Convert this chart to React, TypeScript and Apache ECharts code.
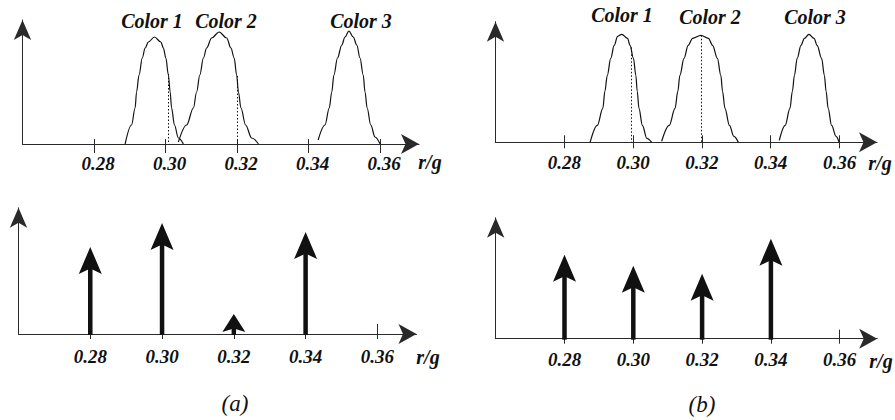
import React, { useEffect, useRef } from "react";
import * as echarts from "echarts";

// ---------- data ----------
const tickValues = [0.28, 0.3, 0.32, 0.34, 0.36];
const xAxisName = "r/g";
const colorLabels = ["Color 1", "Color 2", "Color 3"];
const panelLabels = ["(a)", "(b)"];

// (a) top: colour distributions (r/g, relative height)
const curveA1R = [0.2887, 0.2905, 0.2915, 0.2919, 0.2926, 0.2935, 0.2943, 0.2952, 0.2969, 0.2987, 0.2994, 0.3001, 0.3008, 0.3013, 0.3017, 0.3025, 0.3036, 0.305];
const curveA1H = [0, 19, 36, 52, 69, 86, 96, 102, 107, 102, 96, 86, 69, 52, 36, 19, 6, 0];
const curveA2R = [0.3036, 0.3059, 0.3078, 0.3087, 0.3096, 0.3106, 0.3115, 0.3129, 0.315, 0.3171, 0.3183, 0.3192, 0.3199, 0.3204, 0.3211, 0.3224, 0.3241, 0.326];
const curveA2H = [2, 19, 36, 52, 69, 86, 96, 106, 112, 106, 96, 86, 69, 52, 36, 19, 6, 0];
const curveA3R = [0.3427, 0.3446, 0.3458, 0.3465, 0.3471, 0.3481, 0.3493, 0.3502, 0.3513, 0.3525, 0.3535, 0.3544, 0.3553, 0.3558, 0.3564, 0.3574, 0.3586, 0.36];
const curveA3H = [4, 19, 36, 52, 69, 86, 99, 107, 113, 107, 99, 86, 69, 52, 36, 19, 7, 0];

// (b) top
const curveB1R = [0.2875, 0.2896, 0.2912, 0.2918, 0.2925, 0.2935, 0.2945, 0.2955, 0.2967, 0.2984, 0.2991, 0.3001, 0.3008, 0.3012, 0.3017, 0.3027, 0.304, 0.3054];
const curveB1H = [0, 17, 34, 51, 67, 84, 97, 106, 108, 104, 97, 84, 67, 51, 34, 17, 4, 0];
const curveB2R = [0.3083, 0.3105, 0.3122, 0.313, 0.3136, 0.3148, 0.316, 0.3173, 0.3197, 0.3219, 0.3231, 0.3245, 0.3255, 0.326, 0.3267, 0.328, 0.3293, 0.3306];
const curveB2H = [1, 17, 34, 51, 67, 84, 97, 104, 107, 104, 97, 84, 67, 51, 34, 17, 6, 0];
const curveB3R = [0.3425, 0.3442, 0.3456, 0.3463, 0.3469, 0.3477, 0.3488, 0.3498, 0.3511, 0.3526, 0.3535, 0.3548, 0.3556, 0.3561, 0.3567, 0.3577, 0.359, 0.3599];
const curveB3H = [2, 17, 34, 51, 67, 84, 97, 104, 108, 104, 97, 84, 67, 51, 34, 17, 6, 0];

// dotted sampling lines (r/g, height where they meet the curve)
const dottedAR = [0.3008, 0.3201];
const dottedAH = [70, 68];
const dottedBR = [0.2994, 0.3197];
const dottedBH = [95, 107];

// bottom: impulses
const impulseR = [0.28, 0.3, 0.32, 0.34];
const impulseAH = [87, 111, 20, 102];
const impulseBH = [84, 73, 65, 100];

// ---------- layout / style ----------
const X_MIN = 0.26;
const X_MAX = 0.3709;
const AXIS = "#2a2a2a";
const INK = "#111";
const SERIF = "Liberation Serif";

const panels = [
  { left: 22.5, top: 20, width: 396.5, height: 124, yMax: 124, tickIn: 5, tickOut: 9, margin: 10, pad: 8 },
  { left: 495.5, top: 21.7, width: 381.5, height: 120.6, yMax: 120.6, tickIn: 7, tickOut: 6, margin: 11, pad: 0 },
  { left: 18.5, top: 207.8, width: 398, height: 126.2, yMax: 126.2, tickIn: 10, tickOut: 5, margin: 13, pad: 0 },
  { left: 495.7, top: 217.8, width: 381.5, height: 120.9, yMax: 120.9, tickIn: 9, tickOut: 5, margin: 11, pad: 0 },
];

const pairs = (r: number[], h: number[]) => r.map((v, i) => [v, h[i]]);

function curveSeries(p: number, r: number[], h: number[], dR?: number, dH?: number) {
  const s: any = {
    type: "line",
    xAxisIndex: p * 2,
    yAxisIndex: p,
    data: pairs(r, h),
    smooth: 0.35,
    smoothMonotone: "x",
    showSymbol: false,
    symbol: "none",
    lineStyle: { color: INK, width: 1.2 },
    silent: true,
  };
  if (dR !== undefined && dH !== undefined) {
    s.markLine = {
      silent: true,
      symbol: ["none", "none"],
      label: { show: false },
      lineStyle: { color: INK, width: 1, type: [1.5, 2] },
      data: [[{ coord: [dR, dH] }, { coord: [dR, 0] }]],
    };
  }
  return s;
}

const HEAD_LEN = 27;
const HEAD_W = 23;
const SHAFT = 4.5;

function impulseSeries(p: number, h: number[]) {
  return {
    type: "custom",
    coordinateSystem: "cartesian2d",
    xAxisIndex: p * 2,
    yAxisIndex: p,
    data: pairs(impulseR, h),
    encode: { x: 0, y: 1 },
    silent: true,
    renderItem: (params: any, api: any) => {
      const x = api.value(0);
      const v = api.value(1);
      const base = api.coord([x, 0]);
      const tip = api.coord([x, v]);
      const len = base[1] - tip[1];
      const hl = Math.min(HEAD_LEN, len * 0.9);
      const hw = HEAD_W / 2;
      const notch = tip[1] + hl * 0.8;
      return {
        type: "group",
        children: [
          {
            type: "rect",
            shape: { x: base[0] - SHAFT / 2, y: notch - 1, width: SHAFT, height: base[1] - notch + 2 },
            style: { fill: INK },
          },
          {
            type: "polygon",
            shape: {
              points: [
                [tip[0], tip[1]],
                [tip[0] + hw, tip[1] + hl],
                [tip[0], notch],
                [tip[0] - hw, tip[1] + hl],
              ],
            },
            style: { fill: INK },
          },
        ],
      };
    },
  };
}

function buildOption() {
  const grid = panels.map((p) => ({ left: p.left, top: p.top, width: p.width, height: p.height, containLabel: false }));
  const xAxis: any[] = [];
  const yAxis: any[] = [];
  panels.forEach((p, i) => {
    xAxis.push({
      type: "value",
      gridIndex: i,
      min: X_MIN,
      max: X_MAX,
      position: "bottom",
      axisLine: { show: true, onZero: false, symbol: ["none", "arrow"], symbolSize: [15, 18], lineStyle: { color: AXIS, width: 1 } },
      axisTick: { show: true, inside: false, length: p.tickOut, customValues: tickValues, lineStyle: { color: AXIS, width: 1 } },
      axisLabel: {
        show: true,
        customValues: tickValues,
        formatter: (v: number) => v.toFixed(2),
        margin: p.margin,
        fontFamily: SERIF,
        fontStyle: "italic",
        fontWeight: "bold",
        fontSize: 19,
        color: INK,
        padding: [0, 0, 0, p.pad],
      },
      splitLine: { show: false },
    });
    xAxis.push({
      type: "value",
      gridIndex: i,
      min: X_MIN,
      max: X_MAX,
      position: "bottom",
      axisLine: { show: false, onZero: false },
      axisTick: { show: true, inside: true, length: p.tickIn, customValues: tickValues, lineStyle: { color: AXIS, width: 1 } },
      axisLabel: { show: false },
      splitLine: { show: false },
    });
    yAxis.push({
      type: "value",
      gridIndex: i,
      min: 0,
      max: p.yMax,
      axisLine: { show: true, onZero: false, symbol: ["none", "arrow"], symbolSize: [13, 20], lineStyle: { color: AXIS, width: 1 } },
      axisTick: { show: false },
      axisLabel: { show: false },
      splitLine: { show: false },
    });
  });

  const series: any[] = [
    curveSeries(0, curveA1R, curveA1H, dottedAR[0], dottedAH[0]),
    curveSeries(0, curveA2R, curveA2H, dottedAR[1], dottedAH[1]),
    curveSeries(0, curveA3R, curveA3H),
    curveSeries(1, curveB1R, curveB1H, dottedBR[0], dottedBH[0]),
    curveSeries(1, curveB2R, curveB2H, dottedBR[1], dottedBH[1]),
    curveSeries(1, curveB3R, curveB3H),
    impulseSeries(2, impulseAH),
    impulseSeries(3, impulseBH),
  ];

  const colorPos = [
    [152, 21], [226, 21], [361, 21],
    [622, 15], [710, 17], [815, 17],
  ];
  const namePos = [[430, 162], [880, 163], [428, 357], [881, 361]];
  const panelPos = [[235, 403], [702, 404]];

  const graphic: any[] = [];
  colorPos.forEach((pos, i) => {
    graphic.push({
      type: "text",
      x: pos[0],
      y: pos[1],
      silent: true,
      style: {
        text: colorLabels[i % 3],
        fontFamily: SERIF,
        fontStyle: "italic",
        fontWeight: "bold",
        fontSize: 20,
        fill: INK,
        textAlign: "center",
        textVerticalAlign: "middle",
      },
    });
  });
  namePos.forEach((pos) => {
    graphic.push({
      type: "text",
      x: pos[0],
      y: pos[1],
      silent: true,
      style: {
        text: xAxisName,
        fontFamily: SERIF,
        fontStyle: "italic",
        fontWeight: "bold",
        fontSize: 20,
        fill: INK,
        textAlign: "center",
        textVerticalAlign: "middle",
      },
    });
  });
  panelPos.forEach((pos, i) => {
    graphic.push({
      type: "text",
      x: pos[0],
      y: pos[1],
      silent: true,
      style: {
        text: panelLabels[i],
        fontFamily: SERIF,
        fontStyle: "italic",
        fontSize: 23,
        fill: INK,
        textAlign: "center",
        textVerticalAlign: "middle",
      },
    });
  });

  return {
    animation: false,
    backgroundColor: "#ffffff",
    grid,
    xAxis,
    yAxis,
    series,
    graphic,
  };
}

export default function App() {
  const ref = useRef<HTMLDivElement | null>(null);
  useEffect(() => {
    if (!ref.current) return;
    const chart = echarts.init(ref.current, undefined, { renderer: "svg" });
    chart.setOption(buildOption() as any);
    return () => chart.dispose();
  }, []);
  return (
    <div
      ref={ref}
      style={{ position: "absolute", left: 0, top: 0, width: 895, height: 420, background: "#fff" }}
    />
  );
}
